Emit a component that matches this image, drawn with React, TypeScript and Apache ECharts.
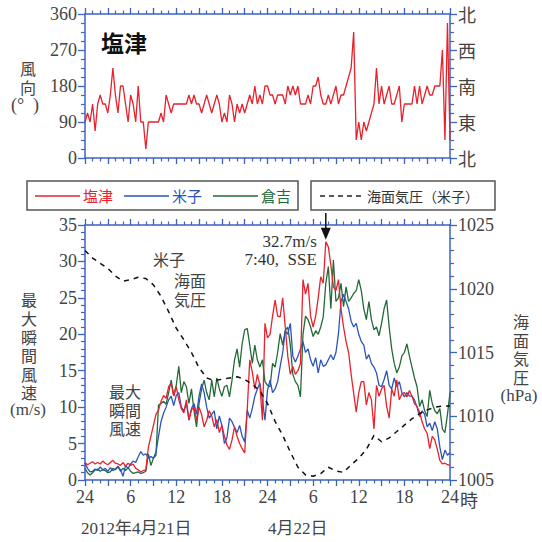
import React, { useEffect, useRef } from "react";
import * as echarts from "echarts";

// 20-minute samples, 0:00 Apr 21 -> 0:00 Apr 23 (145 points)
const STEP_HOURS = 1 / 3;

const shiozuDirection = [
  90, 112.5, 90, 135, 67.5, 135, 157.5, 135, 135, 112.5,
  157.5, 225, 157.5, 112.5, 180, 180, 135, 90, 157.5, 135,
  90, 180, 90, 90, 22.5, 90, 90, 90, 90, 90,
  112.5, 90, 157.5, 135, 112.5, 135, 135, 135, 135, 135,
  135, 157.5, 135, 157.5, 135, 135, 112.5, 135, 157.5, 135,
  112.5, 135, 157.5, 135, 90, 112.5, 90, 157.5, 135, 90,
  135, 112.5, 135, 112.5, 135, 157.5, 135, 180, 135, 157.5,
  135, 180, 180, 157.5, 157.5, 135, 157.5, 157.5, 157.5, 135,
  180, 157.5, 180, 157.5, 180, 135, 135, 135, 157.5, 135,
  180, 180, 202.5, 157.5, 135, 135, 157.5, 135, 157.5, 180,
  135, 157.5, 157.5, 180, 202.5, 225, 315, 45, 90, 45,
  90, 67.5, 90, 112.5, 135, 225, 135, 180, 135, 157.5,
  180, 135, 135, 157.5, 180, 90, 135, 135, 135, 135,
  180, 135, 180, 135, 157.5, 180, 157.5, 157.5, 180, 180,
  180, 270, 45, 337.5, 45,
];

const shiozuGust = [
  2.4, 2.1, 2.3, 2.5, 2.2, 2.4, 2.2, 2.6, 2.3, 2.1,
  2.4, 2.7, 2.3, 2.2, 2.0, 2.4, 1.9, 2.3, 2.0, 2.2,
  1.6, 1.4, 1.1, 1.3, 1.4, 4.5, 6.0, 7.5, 9.0, 9.6,
  10.8, 11.6, 11.2, 12.8, 13.3, 11.5, 12.8, 11.0, 9.8, 9.2,
  11.0, 8.2, 9.6, 10.0, 8.2, 10.0, 9.0, 7.3, 8.2, 9.5,
  8.8, 7.3, 8.3, 6.5, 7.5, 6.0, 4.8, 4.2, 5.5, 7.3,
  6.0, 5.0, 4.3, 3.7, 9.6, 16.5, 14.8, 12.5, 14.5, 13.0,
  8.2, 21.5, 19.5, 20.0, 22.5, 24.7, 22.5, 22.4, 25.0, 21.0,
  17.0, 14.5, 15.6, 14.5, 15.0, 16.0, 27.5, 25.5, 27.0, 22.5,
  21.0, 22.5, 25.0, 27.9, 27.0, 32.7, 32.0, 29.5, 26.5, 26.0,
  27.5, 23.5, 21.0, 19.0, 17.5, 14.5, 11.9, 9.3, 12.0, 13.5,
  13.5, 10.3, 12.0, 11.0, 7.0, 13.0, 11.5, 12.5, 13.0, 10.1,
  8.5, 12.5, 11.5, 13.7, 11.0, 11.8, 12.0, 11.4, 12.3, 11.5,
  10.5, 10.1, 9.3, 8.0, 7.0, 6.4, 4.3, 6.0, 5.5, 4.2,
  2.7, 2.2, 2.3, 2.1, 2.0,
];

const yonagoGust = [
  2.3, 1.6, 1.1, 1.2, 1.5, 1.3, 1.8, 1.4, 1.6, 1.2,
  1.7, 1.3, 1.5, 1.9, 1.4, 0.5, 2.0, 1.6, 2.2, 2.6,
  2.4, 3.2, 3.9, 3.4, 3.6, 3.0, 3.2, 3.0, 3.8, 6.0,
  8.0, 9.2, 10.0, 11.0, 11.5, 10.2, 11.6, 12.0, 10.0, 9.5,
  10.5, 8.3, 9.8, 10.5, 9.0, 11.5, 13.2, 12.0, 10.0, 8.5,
  9.0, 9.5, 7.0, 8.8, 7.5, 5.0, 5.8, 8.5, 8.0, 7.2,
  6.5, 7.5, 6.0, 5.2, 9.6, 8.5, 9.8, 11.5, 12.5, 13.3,
  11.0, 8.2, 12.3, 13.7, 12.0, 12.5, 13.5, 15.6, 17.5, 20.5,
  20.0, 21.5, 17.0, 16.2, 17.0, 18.0, 19.0, 17.5, 18.0, 16.5,
  15.6, 16.8, 14.7, 16.5, 15.6, 15.8, 16.5, 17.2, 16.5, 17.5,
  20.1, 24.5, 25.5, 24.5, 23.5, 21.8, 21.0, 21.5, 20.0, 19.0,
  18.5, 16.6, 17.2, 16.0, 15.5, 14.7, 13.0, 12.8, 13.8, 15.0,
  13.0, 12.5, 14.0, 12.8, 13.5, 12.0, 11.4, 12.0, 11.5, 11.5,
  11.0, 10.0, 8.7, 9.5, 9.0, 7.3, 7.8, 6.8, 8.0, 7.0,
  4.5, 2.8, 4.1, 3.4, 3.8,
];

const kurayoshiGust = [
  1.6, 1.0, 0.7, 1.0, 1.4, 1.5, 1.2, 1.4, 1.3, 1.0,
  1.1, 1.6, 1.4, 1.8, 1.2, 1.6, 1.3, 1.7, 1.2, 0.9,
  1.0, 1.1, 0.9, 1.0, 1.2, 3.6, 2.0, 3.0, 3.4, 10.3,
  10.5, 10.8, 10.4, 12.0, 13.7, 11.6, 13.0, 15.6, 12.0, 13.5,
  12.8, 10.5, 12.5, 9.5, 7.3, 10.5, 12.5, 13.7, 12.0, 11.0,
  13.7, 11.4, 14.0, 12.5, 11.5, 12.8, 13.0, 11.4, 13.7, 16.5,
  18.0, 15.5, 18.7, 20.6, 20.8, 18.5, 16.0, 18.5, 16.5, 15.5,
  16.5, 13.5, 13.0, 12.8, 16.0, 15.5, 17.5, 20.1, 18.5, 20.5,
  21.0, 18.5, 14.5, 13.5, 13.0, 11.4, 20.0, 22.5, 22.0, 21.0,
  19.7, 20.5, 20.0, 21.0, 22.4, 27.0, 29.3, 23.5, 30.2, 24.5,
  25.0, 27.0, 23.8, 26.5, 24.5, 25.0, 25.6, 26.0, 27.5, 26.0,
  23.5, 22.0, 24.5, 22.0, 20.6, 21.0, 19.8, 21.5, 23.5, 24.7,
  21.0, 18.0, 16.0, 14.7, 15.5, 17.0, 17.5, 18.7, 17.0, 15.5,
  14.0, 12.8, 10.1, 11.0, 9.5, 8.7, 12.3, 10.5, 9.5, 9.1,
  9.8, 7.0, 6.5, 9.0, 12.0,
];

// hourly sea-level pressure at Yonago (hPa), hour 0..48
const yonagoPressure = [
  1023.0, 1022.4, 1022.0, 1021.6, 1021.0, 1020.6, 1020.7, 1020.9, 1020.8, 1020.3,
  1019.4, 1018.2, 1016.9, 1016.0, 1015.0, 1013.8, 1013.0, 1012.8, 1012.9, 1013.0,
  1013.1, 1012.9, 1012.5, 1012.0, 1011.0, 1009.6, 1008.5, 1007.2, 1006.0, 1005.4,
  1005.3, 1005.5, 1006.0, 1005.7, 1005.6, 1006.2, 1006.7, 1007.4, 1008.5, 1008.0,
  1008.3, 1008.8, 1009.3, 1009.8, 1010.2, 1010.5, 1010.7, 1010.8, 1010.8,
];

const hourLabels = ["24", "6", "12", "18", "24", "6", "12", "18", "24"];
const compassLabels = ["北", "東", "南", "西", "北"];

const RED = "#e8212b";
const BLUE = "#2b54b8";
const GREEN = "#236a38";
const AXIS = "#3d62c0";
const TEXT = "#444";
const SERIF = "Liberation Serif";
const CJK = "Noto Sans CJK JP";

const toPairs = (arr: number[]) => arr.map((v, i) => [i * STEP_HOURS, v]);

function labelStyle(family: string, fmt: (v: number) => string, extra: any = {}) {
  return {
    color: TEXT,
    fontFamily: family,
    fontSize: 18,
    showMinLabel: true,
    showMaxLabel: true,
    formatter: (v: number) => {
      const s = fmt(v);
      return s ? `{t|${s}}` : "";
    },
    rich: { t: { fontFamily: family, fontSize: 18, color: TEXT } },
    ...extra,
  };
}

function xAxisDef(gridIndex: number, position: string, showLabel: boolean) {
  return {
    type: "value",
    gridIndex,
    position,
    min: 0,
    max: 48,
    interval: 3,
    axisLine: { show: true, onZero: false, lineStyle: { color: AXIS, width: 1.5 } },
    axisTick: { show: true, length: 6, lineStyle: { color: AXIS, width: 1.3 } },
    minorTick: { show: true, splitNumber: 3, length: 3.5, lineStyle: { color: AXIS, width: 1.2 } },
    splitLine: { show: false },
    minorSplitLine: { show: false },
    axisLabel: labelStyle(SERIF, (v) => (v % 6 === 0 ? hourLabels[v / 6] : ""), {
      show: showLabel,
      margin: 8,
    }),
  };
}

function yAxisDef(
  gridIndex: number,
  position: string,
  min: number,
  max: number,
  interval: number,
  split: number,
  fmt: (v: number) => string,
  fontFamily: string
) {
  return {
    type: "value",
    gridIndex,
    position,
    min,
    max,
    interval,
    axisLine: { show: true, onZero: false, lineStyle: { color: AXIS, width: 1.5 } },
    axisTick: { show: true, length: 7, lineStyle: { color: AXIS, width: 1.3 } },
    minorTick: { show: true, splitNumber: split, length: 4, lineStyle: { color: AXIS, width: 1.2 } },
    splitLine: { show: false },
    minorSplitLine: { show: false },
    axisLabel: labelStyle(fontFamily, fmt, { margin: 8 }),
  };
}

function txt(
  id: string,
  text: string,
  x: number,
  y: number,
  size: number,
  family: string,
  fill = TEXT,
  align = "center",
  lineHeight?: number,
  weight = "normal"
) {
  return {
    type: "text",
    id,
    x,
    y,
    z: 10,
    style: {
      text,
      fontSize: size,
      fontFamily: family,
      fontWeight: weight,
      lineHeight: lineHeight || size + 2,
      fill,
      align,
      verticalAlign: "top",
      textAlign: align,
      textVerticalAlign: "top",
    },
  };
}

function buildGraphics() {
  const g: any[] = [];
  g.push(txt("title", "塩津", 101, 29, 23, CJK, "#111", "left", 26, "bold"));
  // top y name
  g.push(txt("tn", "風\n向", 28, 58, 16, CJK, TEXT, "center", 19));
  g.push(txt("tnu", "(°  )", 25, 95, 18, SERIF, TEXT, "center", 19));
  // bottom-left y name
  g.push(txt("bl", "最\n大\n瞬\n間\n風\n速", 29, 290, 16, CJK, TEXT, "center", 18.6));
  g.push(txt("blu", "(m/s)", 28, 400, 17, SERIF, TEXT, "center", 18));
  // bottom-right y name
  g.push(txt("br", "海\n面\n気\n圧", 521, 312, 16, CJK, TEXT, "center", 18.5));
  g.push(txt("bru", "(hPa)", 519, 386, 17, SERIF, TEXT, "center", 18));
  // in-plot annotations
  g.push(txt("a1", "米子", 169, 250, 16, CJK));
  g.push(txt("a2", "海面\n気圧", 190, 271, 16, CJK, TEXT, "center", 18.5));
  g.push(txt("a3", "最大\n瞬間\n風速", 125, 382, 16, CJK, TEXT, "center", 18.5));
  // x-axis extras
  g.push(txt("hu", "時", 460, 489, 18, CJK, TEXT, "left"));
  g.push(txt("d1", "2012年4月21日", 81, 519, 17, SERIF + ", " + CJK, TEXT, "left"));
  g.push(txt("d2", "4月22日", 268, 519, 17, SERIF + ", " + CJK, TEXT, "left"));
  // legend boxes
  g.push({ type: "rect", id: "lb1", shape: { x: 27, y: 181, width: 271, height: 29 }, style: { fill: "none", stroke: "#555", lineWidth: 1.5 } });
  g.push({ type: "rect", id: "lb2", shape: { x: 311, y: 181, width: 184, height: 29 }, style: { fill: "none", stroke: "#555", lineWidth: 1.5 } });
  const items = [
    { c: RED, t: "塩津", x: 35 },
    { c: BLUE, t: "米子", x: 124 },
    { c: GREEN, t: "倉吉", x: 213 },
  ];
  items.forEach((it, k) => {
    g.push({ type: "line", id: "ll" + k, shape: { x1: it.x, y1: 196, x2: it.x + 45, y2: 196 }, style: { stroke: it.c, lineWidth: 1.5 } });
    g.push(txt("lt" + k, it.t, it.x + 48, 187, 15, CJK, it.c, "left"));
  });
  g.push({ type: "line", id: "llp", shape: { x1: 320, y1: 196, x2: 365, y2: 196 }, style: { stroke: "#222", lineWidth: 1.5, lineDash: [5, 4] } });
  g.push(txt("ltp", "海面気圧（米子）", 367, 188, 14, CJK, "#333", "left"));
  return g;
}

export default function App() {
  const ref = useRef<HTMLDivElement>(null);
  useEffect(() => {
    document.body.style.margin = "0";
    const chart = echarts.init(ref.current!, undefined, { renderer: "svg" });
    const option: any = {
      animation: false,
      backgroundColor: "#ffffff",
      textStyle: { fontFamily: SERIF, fontSize: 18, color: TEXT },
      grid: [
        { left: 85, top: 14, width: 365, height: 144 },
        { left: 85, top: 225, width: 365, height: 255 },
      ],
      xAxis: [
        xAxisDef(0, "bottom", false),
        xAxisDef(0, "top", false),
        xAxisDef(1, "bottom", true),
        xAxisDef(1, "top", false),
      ],
      yAxis: [
        yAxisDef(0, "left", 0, 360, 90, 4, (v) => String(v), SERIF),
        yAxisDef(0, "right", 0, 360, 90, 4, (v) => compassLabels[Math.round(v / 90)], CJK),
        yAxisDef(1, "left", 0, 35, 5, 5, (v) => String(v), SERIF),
        yAxisDef(1, "right", 1005, 1025, 5, 5, (v) => String(v), SERIF),
      ],
      series: [
        {
          name: "塩津風向",
          type: "line",
          xAxisIndex: 0,
          yAxisIndex: 0,
          data: toPairs(shiozuDirection),
          symbol: "none",
          lineStyle: { color: RED, width: 1.3 },
        },
        {
          name: "倉吉",
          type: "line",
          xAxisIndex: 2,
          yAxisIndex: 2,
          data: toPairs(kurayoshiGust),
          symbol: "none",
          lineStyle: { color: GREEN, width: 1.3 },
        },
        {
          name: "米子",
          type: "line",
          xAxisIndex: 2,
          yAxisIndex: 2,
          data: toPairs(yonagoGust),
          symbol: "none",
          lineStyle: { color: BLUE, width: 1.3 },
        },
        {
          name: "塩津",
          type: "line",
          xAxisIndex: 2,
          yAxisIndex: 2,
          data: toPairs(shiozuGust),
          symbol: "none",
          lineStyle: { color: RED, width: 1.3 },
        },
        {
          name: "海面気圧（米子）",
          type: "line",
          xAxisIndex: 2,
          yAxisIndex: 3,
          data: yonagoPressure.map((p, h) => [h, p]),
          symbol: "none",
          lineStyle: { color: "#111", width: 1.5, type: [5, 5] },
          z: 5,
        },
      ],
      graphic: buildGraphics(),
    };
    chart.setOption(option);

    // arrow + text at Shiozu peak gust
    let peakIdx = 0;
    shiozuGust.forEach((v, i) => {
      if (v > shiozuGust[peakIdx]) peakIdx = i;
    });
    const p = chart.convertToPixel({ xAxisIndex: 2, yAxisIndex: 2 } as any, [peakIdx * STEP_HOURS, shiozuGust[peakIdx]]) as number[];
    if (p && isFinite(p[0])) {
      const tipY = p[1] - 2;
      chart.setOption({
        graphic: [
          { type: "line", id: "arrowLine", shape: { x1: p[0], y1: 213, x2: p[0], y2: tipY - 11 }, style: { stroke: "#111", lineWidth: 1.5 }, z: 20 },
          { type: "polygon", id: "arrowHead", shape: { points: [[p[0] - 5, tipY - 12], [p[0] + 5, tipY - 12], [p[0], tipY]] }, style: { fill: "#111" }, z: 20 },
          txt("pk", "32.7m/s\n7:40,  SSE", p[0] - 9, 232, 17, SERIF, "#333", "right", 18.5),
        ],
      });
    }
    return () => chart.dispose();
  }, []);
  return <div ref={ref} style={{ width: 542, height: 542 }} />;
}
